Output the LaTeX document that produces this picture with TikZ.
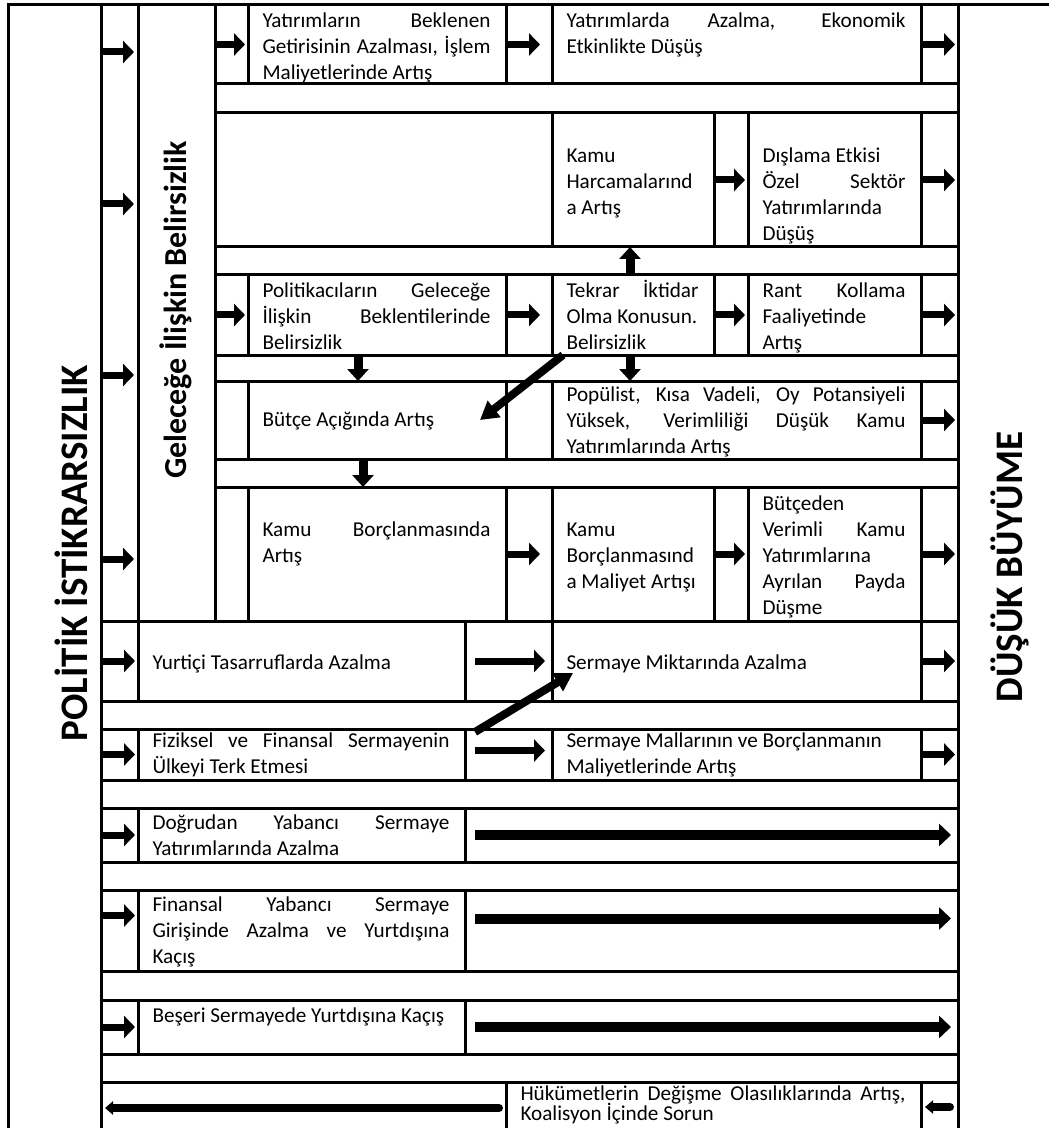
\documentclass[tikz,border=0pt]{standalone}
\usepackage{fontspec}
\setmainfont{Carlito}
\usetikzlibrary{arrows.meta,positioning,calc}
\hyphenpenalty=10000
\exhyphenpenalty=10000

\tikzset{
  box/.style={draw, line width=1.5pt, inner sep=0pt, outer sep=0pt},
  txt/.style={anchor=north west, inner sep=0pt, outer sep=0pt, align=flush left,
    font=\fontsize{10.6}{13}\selectfont},
  title/.style={rotate=90, inner sep=0pt, font=\fontsize{19.5}{19.5}\selectfont\bfseries},
  blk/.style={line width=3.5pt, shorten <=1pt, shorten >=1.5pt,
    -{Triangle[width=11pt,length=5.5pt]}},
  longarr/.style={line width=5pt, -{Triangle[width=11pt,length=6pt]}},
  vert/.style={line width=4.5pt, -{Triangle[width=10.5pt,length=6pt]}},
  diag/.style={line width=4pt, -{Triangle[width=10pt,length=9pt]}},
  back/.style={line width=4pt, line cap=round, -{Triangle[width=6.5pt,length=4pt]}}
}

% cell on the pixel grid: name, x1, y1, x2, y2 (y runs down)
\newcommand{\tabcell}[5]{%
  \node[box, minimum width={(#4-#2)*0.5pt}, minimum height={(#5-#3)*0.5pt}]
    (#1) at ({(#2+#4)/2},{(#3+#5)/2}) {};}
% cell with text: same, then drop of the first line, then the text
\newcommand{\tabtext}[7]{%
  \tabcell{#1}{#2}{#3}{#4}{#5}
  \pgfmathsetmacro{\tw}{(#4-#2-30)*0.5}
  \node[txt, text width=\tw pt] (#1t) at ([shift={(14.5,#6)}]#1.north west) {\strut#7};}
\newcommand{\jline}[1]{\makebox[\linewidth][s]{#1}}

\begin{document}
\begin{tikzpicture}[x=0.5pt, y=-0.5pt]
  \useasboundingbox (0,0) rectangle (1048,1128);

  % side columns
  \tabcell{pcol}{8}{5}{101}{1140}
  \tabcell{acol}{101}{5}{138}{621}
  \tabcell{gcol}{138}{5}{215}{621}
  \tabcell{dcol}{958}{5}{1070}{1140}
  \node[title] (pol) at (71,553) {POLİTİK İSTİKRARSIZLIK};
  \node[title, font=\fontsize{16}{16}\selectfont\bfseries] (gel) at (176,310)
    {Geleceğe İlişkin Belirsizlik};
  \node[title] (dus) at (1010,567) {DÜŞÜK BÜYÜME};

  % row 1
  \tabcell{a11}{215}{5}{248}{84}
  \tabtext{c11}{248}{5}{506}{84}{4}{\jline{Yatırımların Beklenen}\\
    \jline{Getirisinin Azalması, İşlem}\\Maliyetlerinde Artış}
  \tabcell{a12}{506}{5}{552}{84}
  \tabtext{c12}{552}{5}{921}{84}{4}{\jline{Yatırımlarda Azalma, Ekonomik}\\
    Etkinlikte Düşüş}
  \tabcell{a13}{921}{5}{958}{84}

  % row 2
  \tabcell{e2}{215}{113}{552}{247}
  \tabtext{c21}{552}{113}{714}{247}{31}{Kamu\\Harcamalarınd\\a Artış}
  \tabcell{a21}{714}{113}{748}{247}
  \tabtext{c22}{748}{113}{921}{247}{31}{Dışlama Etkisi\\\jline{Özel Sektör}\\
    Yatırımlarında\\Düşüş}
  \tabcell{a22}{921}{113}{958}{247}

  % row 3
  \tabcell{a31}{215}{275}{248}{355}
  \tabtext{c31}{248}{275}{506}{355}{4}{\jline{Politikacıların Geleceğe}\\
    \jline{İlişkin Beklentilerinde}\\Belirsizlik}
  \tabcell{a32}{506}{275}{552}{355}
  \tabtext{c32}{552}{275}{714}{355}{4}{\jline{Tekrar İktidar}\\
    \mbox{Olma Konusun.}\\Belirsizlik}
  \tabcell{a33}{714}{275}{748}{355}
  \tabtext{c33}{748}{275}{921}{355}{4}{\jline{Rant Kollama}\\Faaliyetinde\\Artış}
  \tabcell{a34}{921}{275}{958}{355}

  % row 4
  \tabcell{e41}{215}{381}{248}{459}
  \tabtext{c41}{248}{381}{506}{459}{27}{Bütçe Açığında Artış}
  \tabcell{e42}{506}{381}{552}{459}
  \tabtext{c42}{552}{381}{921}{459}{2}{\jline{Popülist, Kısa Vadeli, Oy Potansiyeli}\\
    \jline{Yüksek, Verimliliği Düşük Kamu}\\Yatırımlarında Artış}
  \tabcell{a41}{921}{381}{958}{459}

  % row 5
  \tabcell{e51}{215}{487}{248}{621}
  \tabtext{c51}{248}{487}{506}{621}{31}{\jline{Kamu Borçlanmasında}\\Artış}
  \tabcell{a51}{506}{487}{552}{621}
  \tabtext{c52}{552}{487}{714}{621}{31}{Kamu\\Borçlanmasınd\\\mbox{a Maliyet Artışı}}
  \tabcell{a52}{714}{487}{748}{621}
  \tabtext{c53}{748}{487}{921}{621}{5}{Bütçeden\\\jline{Verimli Kamu}\\
    Yatırımlarına\\\jline{Ayrılan Payda}\\Düşme}
  \tabcell{a53}{921}{487}{958}{621}

  % rows 6 and 7
  \tabcell{a61}{101}{621}{138}{701}
  \tabtext{c61}{138}{621}{465}{701}{30}{Yurtiçi Tasarruflarda Azalma}
  \tabcell{a62}{465}{621}{552}{701}
  \tabtext{c62}{552}{621}{921}{701}{30}{Sermaye Miktarında Azalma}
  \tabcell{a63}{921}{621}{958}{701}
  \tabcell{a71}{101}{729}{138}{780}
  \tabtext{c71}{138}{729}{465}{780}{0}{\jline{Fiziksel ve Finansal Sermayenin}\\
    Ülkeyi Terk Etmesi}
  \tabcell{a72}{465}{729}{552}{780}
  \tabtext{c72}{552}{729}{921}{780}{0}{Sermaye Mallarının ve Borçlanmanın\\
    Maliyetlerinde Artış}
  \tabcell{a73}{921}{729}{958}{780}

  % rows 8 to 11
  \tabcell{a81}{101}{808}{138}{862}
  \tabtext{c81}{138}{808}{465}{862}{3}{\jline{Doğrudan Yabancı Sermaye}\\
    Yatırımlarında Azalma}
  \tabcell{l8}{465}{808}{958}{862}
  \tabcell{a91}{101}{890}{138}{971}
  \tabtext{c91}{138}{890}{465}{971}{3}{\jline{Finansal Yabancı Sermaye}\\
    \jline{Girişinde Azalma ve Yurtdışına}\\Kaçış}
  \tabcell{l9}{465}{890}{958}{971}
  \tabcell{a101}{101}{1000}{138}{1054}
  \tabtext{c101}{138}{1000}{465}{1054}{4}{Beşeri Sermayede Yurtdışına Kaçış}
  \tabcell{l10}{465}{1000}{958}{1054}
  \tabcell{l11}{101}{1082}{506}{1140}
  \tabtext{c111}{506}{1082}{921}{1140}{0}{\jline{Hükümetlerin Değişme Olasılıklarında Artış,}\\[-3pt]
    Koalisyon İçinde Sorun}
  \tabcell{a111}{921}{1082}{958}{1140}

  % arrows
  \foreach \y in {52,204,375,559}
    \draw[blk, shorten >=2pt] (acol.west |- 0,\y) -- (acol.east |- 0,\y);
  \foreach \a in {a11,a13,a21,a22,a31,a33,a34,a41,a52,a53,a61,a63,a71,a73,a81,a101}
    \draw[blk] (\a.west) -- (\a.east);
  \foreach \a in {a12,a32,a51}
    \draw[blk, shorten >=6pt] (\a.west) -- (\a.east);
  \draw[blk] ([yshift=7.5pt]a91.west) -- ([yshift=7.5pt]a91.east);
  \draw[blk, shorten <=5pt, shorten >=3.5pt] (a62.west) -- (a62.east);
  \draw[blk, shorten <=5pt, shorten >=3.5pt] ([yshift=2pt]a72.west) -- ([yshift=2pt]a72.east);

  \draw[longarr] ([xshift=5pt]l8.west) -- ([xshift=-3.5pt]l8.east);
  \draw[longarr] ([xshift=5pt,yshift=6pt]l9.west) -- ([xshift=-3.5pt,yshift=6pt]l9.east);
  \draw[longarr] ([xshift=5pt]l10.west) -- ([xshift=-3.5pt]l10.east);
  \draw[back] ([xshift=-3.5pt,yshift=1.5pt]l11.east) -- ([xshift=2pt,yshift=1.5pt]l11.west);
  \draw[back] ([xshift=-4pt,yshift=2pt]a111.east) -- ([xshift=2pt,yshift=2pt]a111.west);

  \draw[vert] ([xshift=-1.5pt]c32.north) -- ([xshift=-1.5pt]c21.south);
  \draw[vert] ([xshift=-9.5pt]c31.south) -- ([xshift=-9.5pt]c41.north);
  \draw[vert] ([xshift=-1.5pt]c32.south) -- ([xshift=-1.5pt]c32.south |- c42.north);
  \draw[vert] ([xshift=-7pt]c41.south) -- ([xshift=-7pt]c51.north);

  \draw[diag] ([xshift=5.5pt]c32.south west) -- ([shift={(-26,0)}]c41.east);
  \draw[diag] ([shift={(10,3)}]a72.north west) -- ([shift={(21,12)}]c62.west);
\end{tikzpicture}
\end{document}
